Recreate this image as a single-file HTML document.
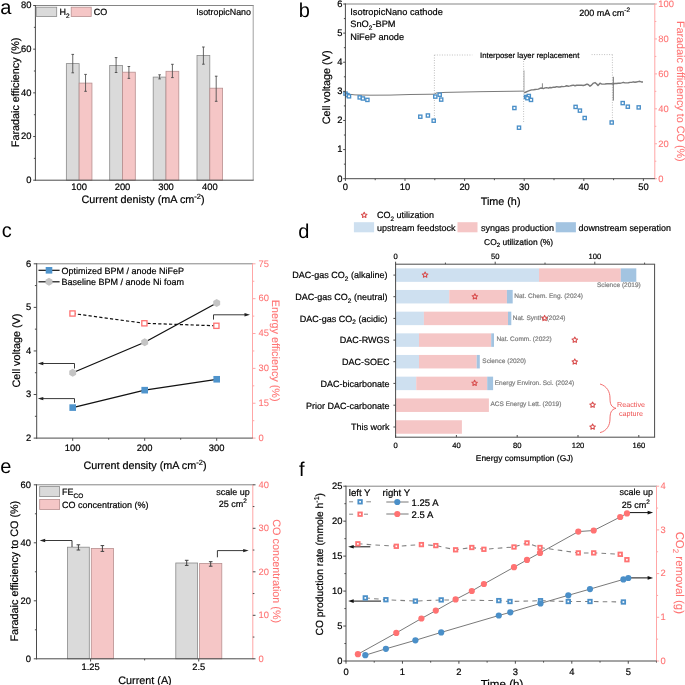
<!DOCTYPE html><html><head><meta charset="utf-8"><style>
html,body{margin:0;padding:0;background:#fff;width:685px;height:685px;overflow:hidden}
svg{display:block;font-family:"Liberation Sans",sans-serif;will-change:transform;text-rendering:geometricPrecision}
</style></head><body><svg width="685" height="685" viewBox="0 0 685 685">
<rect width="685" height="685" fill="#fff"/>
<text x="0.30" y="13.90" font-size="20" text-anchor="start" fill="#000" stroke="#000" stroke-width="0">a</text>
<rect x="66.35" y="63.60" width="12.80" height="116.60" fill="#dadada" stroke="#8a8a8a" stroke-width="0.8"/>
<rect x="79.15" y="83.10" width="12.80" height="97.10" fill="#f5c6c6" stroke="#b89090" stroke-width="0.8"/>
<rect x="109.70" y="65.50" width="12.80" height="114.70" fill="#dadada" stroke="#8a8a8a" stroke-width="0.8"/>
<rect x="122.50" y="72.20" width="12.80" height="108.00" fill="#f5c6c6" stroke="#b89090" stroke-width="0.8"/>
<rect x="153.20" y="77.10" width="12.80" height="103.10" fill="#dadada" stroke="#8a8a8a" stroke-width="0.8"/>
<rect x="166.00" y="71.30" width="12.80" height="108.90" fill="#f5c6c6" stroke="#b89090" stroke-width="0.8"/>
<rect x="197.00" y="55.40" width="12.80" height="124.80" fill="#dadada" stroke="#8a8a8a" stroke-width="0.8"/>
<rect x="209.80" y="88.20" width="12.80" height="92.00" fill="#f5c6c6" stroke="#b89090" stroke-width="0.8"/>
<line x1="72.75" y1="54.40" x2="72.75" y2="72.80" stroke="#4a4a4a" stroke-width="0.85" stroke-linecap="butt"/>
<line x1="71.45" y1="54.40" x2="74.05" y2="54.40" stroke="#4a4a4a" stroke-width="0.9" stroke-linecap="butt"/>
<line x1="71.45" y1="72.80" x2="74.05" y2="72.80" stroke="#4a4a4a" stroke-width="0.9" stroke-linecap="butt"/>
<line x1="85.55" y1="74.40" x2="85.55" y2="91.30" stroke="#4a4a4a" stroke-width="0.85" stroke-linecap="butt"/>
<line x1="84.25" y1="74.40" x2="86.85" y2="74.40" stroke="#4a4a4a" stroke-width="0.9" stroke-linecap="butt"/>
<line x1="84.25" y1="91.30" x2="86.85" y2="91.30" stroke="#4a4a4a" stroke-width="0.9" stroke-linecap="butt"/>
<line x1="116.10" y1="57.60" x2="116.10" y2="72.50" stroke="#4a4a4a" stroke-width="0.85" stroke-linecap="butt"/>
<line x1="114.80" y1="57.60" x2="117.40" y2="57.60" stroke="#4a4a4a" stroke-width="0.9" stroke-linecap="butt"/>
<line x1="114.80" y1="72.50" x2="117.40" y2="72.50" stroke="#4a4a4a" stroke-width="0.9" stroke-linecap="butt"/>
<line x1="128.90" y1="66.50" x2="128.90" y2="78.40" stroke="#4a4a4a" stroke-width="0.85" stroke-linecap="butt"/>
<line x1="127.60" y1="66.50" x2="130.20" y2="66.50" stroke="#4a4a4a" stroke-width="0.9" stroke-linecap="butt"/>
<line x1="127.60" y1="78.40" x2="130.20" y2="78.40" stroke="#4a4a4a" stroke-width="0.9" stroke-linecap="butt"/>
<line x1="159.60" y1="74.80" x2="159.60" y2="78.90" stroke="#4a4a4a" stroke-width="0.85" stroke-linecap="butt"/>
<line x1="158.30" y1="74.80" x2="160.90" y2="74.80" stroke="#4a4a4a" stroke-width="0.9" stroke-linecap="butt"/>
<line x1="158.30" y1="78.90" x2="160.90" y2="78.90" stroke="#4a4a4a" stroke-width="0.9" stroke-linecap="butt"/>
<line x1="172.40" y1="64.30" x2="172.40" y2="77.60" stroke="#4a4a4a" stroke-width="0.85" stroke-linecap="butt"/>
<line x1="171.10" y1="64.30" x2="173.70" y2="64.30" stroke="#4a4a4a" stroke-width="0.9" stroke-linecap="butt"/>
<line x1="171.10" y1="77.60" x2="173.70" y2="77.60" stroke="#4a4a4a" stroke-width="0.9" stroke-linecap="butt"/>
<line x1="203.40" y1="47.00" x2="203.40" y2="64.20" stroke="#4a4a4a" stroke-width="0.85" stroke-linecap="butt"/>
<line x1="202.10" y1="47.00" x2="204.70" y2="47.00" stroke="#4a4a4a" stroke-width="0.9" stroke-linecap="butt"/>
<line x1="202.10" y1="64.20" x2="204.70" y2="64.20" stroke="#4a4a4a" stroke-width="0.9" stroke-linecap="butt"/>
<line x1="216.20" y1="76.20" x2="216.20" y2="101.30" stroke="#4a4a4a" stroke-width="0.85" stroke-linecap="butt"/>
<line x1="214.90" y1="76.20" x2="217.50" y2="76.20" stroke="#4a4a4a" stroke-width="0.9" stroke-linecap="butt"/>
<line x1="214.90" y1="101.30" x2="217.50" y2="101.30" stroke="#4a4a4a" stroke-width="0.9" stroke-linecap="butt"/>
<line x1="34.90" y1="5.50" x2="253.70" y2="5.50" stroke="#858585" stroke-width="1.0" stroke-linecap="butt"/>
<line x1="253.20" y1="5.50" x2="253.20" y2="180.20" stroke="#a0a0a0" stroke-width="1.0" stroke-linecap="butt"/>
<line x1="34.90" y1="180.20" x2="253.70" y2="180.20" stroke="#4a4a4a" stroke-width="1.0" stroke-linecap="butt"/>
<line x1="35.40" y1="5.00" x2="35.40" y2="180.70" stroke="#4a4a4a" stroke-width="1.0" stroke-linecap="butt"/>
<line x1="33.20" y1="180.20" x2="35.40" y2="180.20" stroke="#4a4a4a" stroke-width="1.0" stroke-linecap="butt"/>
<text x="31.50" y="183.00" font-size="9.4" text-anchor="end" fill="#000" stroke="#000" stroke-width="0.2">0</text>
<line x1="33.90" y1="158.36" x2="35.40" y2="158.36" stroke="#4a4a4a" stroke-width="1.0" stroke-linecap="butt"/>
<line x1="33.20" y1="136.52" x2="35.40" y2="136.52" stroke="#4a4a4a" stroke-width="1.0" stroke-linecap="butt"/>
<text x="31.50" y="139.32" font-size="9.4" text-anchor="end" fill="#000" stroke="#000" stroke-width="0.2">20</text>
<line x1="33.90" y1="114.69" x2="35.40" y2="114.69" stroke="#4a4a4a" stroke-width="1.0" stroke-linecap="butt"/>
<line x1="33.20" y1="92.85" x2="35.40" y2="92.85" stroke="#4a4a4a" stroke-width="1.0" stroke-linecap="butt"/>
<text x="31.50" y="95.65" font-size="9.4" text-anchor="end" fill="#000" stroke="#000" stroke-width="0.2">40</text>
<line x1="33.90" y1="71.01" x2="35.40" y2="71.01" stroke="#4a4a4a" stroke-width="1.0" stroke-linecap="butt"/>
<line x1="33.20" y1="49.17" x2="35.40" y2="49.17" stroke="#4a4a4a" stroke-width="1.0" stroke-linecap="butt"/>
<text x="31.50" y="51.97" font-size="9.4" text-anchor="end" fill="#000" stroke="#000" stroke-width="0.2">60</text>
<line x1="33.90" y1="27.34" x2="35.40" y2="27.34" stroke="#4a4a4a" stroke-width="1.0" stroke-linecap="butt"/>
<line x1="33.20" y1="5.50" x2="35.40" y2="5.50" stroke="#4a4a4a" stroke-width="1.0" stroke-linecap="butt"/>
<text x="31.50" y="8.30" font-size="9.4" text-anchor="end" fill="#000" stroke="#000" stroke-width="0.2">80</text>
<text x="79.15" y="189.80" font-size="9.4" text-anchor="middle" fill="#000" stroke="#000" stroke-width="0.2">100</text>
<text x="122.50" y="189.80" font-size="9.4" text-anchor="middle" fill="#000" stroke="#000" stroke-width="0.2">200</text>
<text x="166.00" y="189.80" font-size="9.4" text-anchor="middle" fill="#000" stroke="#000" stroke-width="0.2">300</text>
<text x="209.80" y="189.80" font-size="9.4" text-anchor="middle" fill="#000" stroke="#000" stroke-width="0.2">400</text>
<text x="81.50" y="202.70" font-size="10.8" text-anchor="start" fill="#000" stroke="#000" stroke-width="0.2">Current denisty (mA cm<tspan dy="-4" font-size="7.5">-2</tspan><tspan dy="4">)</tspan></text>
<text x="19.50" y="92.40" font-size="10.8" text-anchor="middle" fill="#000" stroke="#000" stroke-width="0.2" transform="rotate(-90 19.50 92.40)">Faradaic efficiency (%)</text>
<rect x="36.20" y="7.20" width="20.50" height="9.30" fill="#dadada" stroke="#8a8a8a" stroke-width="0.8"/>
<text x="59.50" y="15.20" font-size="9" text-anchor="start" fill="#000" stroke="#000" stroke-width="0.2">H<tspan dy="2.5" font-size="6.5">2</tspan></text>
<rect x="71.20" y="7.20" width="20.00" height="9.30" fill="#f5c6c6" stroke="#b89090" stroke-width="0.8"/>
<text x="93.70" y="15.20" font-size="9" text-anchor="start" fill="#000" stroke="#000" stroke-width="0.2">CO</text>
<text x="251.00" y="15.00" font-size="8.9" text-anchor="end" fill="#000" stroke="#000" stroke-width="0.2">IsotropicNano</text>
<text x="298.80" y="17.40" font-size="20" text-anchor="start" fill="#000" stroke="#000" stroke-width="0">b</text>
<line x1="434.40" y1="55.00" x2="472.30" y2="55.00" stroke="#b0b0b0" stroke-width="0.8" stroke-dasharray="1,1.5" stroke-linecap="butt"/>
<line x1="434.40" y1="55.00" x2="434.40" y2="123.00" stroke="#b0b0b0" stroke-width="0.8" stroke-dasharray="1,1.5" stroke-linecap="butt"/>
<line x1="523.60" y1="61.00" x2="523.60" y2="122.30" stroke="#b0b0b0" stroke-width="0.8" stroke-dasharray="1,1.5" stroke-linecap="butt"/>
<line x1="591.60" y1="54.60" x2="612.40" y2="54.60" stroke="#b0b0b0" stroke-width="0.8" stroke-dasharray="1,1.5" stroke-linecap="butt"/>
<line x1="612.40" y1="54.60" x2="612.40" y2="121.00" stroke="#b0b0b0" stroke-width="0.8" stroke-dasharray="1,1.5" stroke-linecap="butt"/>
<text x="480.10" y="57.80" font-size="7.8" text-anchor="start" fill="#000" stroke="#000" stroke-width="0.2">Interposer layer replacement</text>
<polyline points="345.40,92.40 350.00,94.30 355.00,94.90 370.00,95.20 390.00,95.10 410.00,94.50 434.30,94.20 436.00,93.00 445.00,92.40 480.00,91.70 523.90,91.10" stroke="#7a7a7a" stroke-width="1.0" fill="none" stroke-linejoin="round"/>
<polyline points="524.10,92.80 526.07,92.00 528.03,91.20 530.00,90.40 531.67,89.88 533.33,89.87 535.00,89.43 536.67,89.36 538.33,89.10 540.00,88.31 541.67,88.06 543.33,88.60 545.00,87.88 546.67,87.66 548.33,88.15 550.00,87.47 551.67,87.67 553.33,87.21 555.00,87.23 556.67,86.65 558.33,86.95 560.00,87.03 561.67,86.57 563.33,86.62 565.00,86.40 566.67,85.71 568.33,86.18 570.00,85.88 571.67,85.49 573.33,85.11 575.00,85.73 576.67,85.24 578.33,85.33 580.00,85.34 581.67,85.23 583.33,85.45 585.00,85.01 587.00,84.07 588.50,84.75 590.00,86.19 591.50,85.14 593.00,83.44 595.00,82.57 596.50,83.75 598.00,85.52 600.00,83.24 601.50,83.91 603.00,84.12 605.00,84.06 607.00,83.70 608.50,83.62 610.00,83.78 611.50,83.73 613.00,83.96 614.75,83.56 616.50,83.59 618.25,83.32 620.00,83.24 621.67,82.87 623.33,82.33 625.00,82.87 626.67,82.88 628.33,82.75 630.00,82.36 631.62,82.39 633.25,81.84 634.88,82.30 636.50,81.97 638.12,81.61 639.75,81.31 641.38,81.92 643.00,81.94" stroke="#7a7a7a" stroke-width="1.45" fill="none" stroke-linejoin="round"/>
<line x1="524.00" y1="70.40" x2="524.00" y2="92.50" stroke="#a8a8a8" stroke-width="1.0" stroke-linecap="butt"/>
<line x1="542.40" y1="83.30" x2="542.40" y2="89.00" stroke="#7a7a7a" stroke-width="0.9" stroke-linecap="butt"/>
<line x1="613.30" y1="76.80" x2="613.30" y2="100.60" stroke="#707070" stroke-width="1.0" stroke-linecap="butt"/>
<rect x="343.90" y="92.00" width="3.20" height="3.20" fill="#fff" stroke="#4a8fc8" stroke-width="1.35"/>
<rect x="345.70" y="93.50" width="3.20" height="3.20" fill="#fff" stroke="#4a8fc8" stroke-width="1.35"/>
<rect x="347.40" y="94.70" width="3.20" height="3.20" fill="#fff" stroke="#4a8fc8" stroke-width="1.35"/>
<rect x="358.10" y="95.80" width="3.20" height="3.20" fill="#fff" stroke="#4a8fc8" stroke-width="1.35"/>
<rect x="361.30" y="96.90" width="3.20" height="3.20" fill="#fff" stroke="#4a8fc8" stroke-width="1.35"/>
<rect x="365.80" y="98.30" width="3.20" height="3.20" fill="#fff" stroke="#4a8fc8" stroke-width="1.35"/>
<rect x="418.70" y="115.10" width="3.20" height="3.20" fill="#fff" stroke="#4a8fc8" stroke-width="1.35"/>
<rect x="426.30" y="113.90" width="3.20" height="3.20" fill="#fff" stroke="#4a8fc8" stroke-width="1.35"/>
<rect x="432.10" y="119.10" width="3.20" height="3.20" fill="#fff" stroke="#4a8fc8" stroke-width="1.35"/>
<rect x="433.70" y="95.00" width="3.20" height="3.20" fill="#fff" stroke="#4a8fc8" stroke-width="1.35"/>
<rect x="438.10" y="93.10" width="3.20" height="3.20" fill="#fff" stroke="#4a8fc8" stroke-width="1.35"/>
<rect x="439.60" y="98.00" width="3.20" height="3.20" fill="#fff" stroke="#4a8fc8" stroke-width="1.35"/>
<rect x="512.80" y="106.40" width="3.20" height="3.20" fill="#fff" stroke="#4a8fc8" stroke-width="1.35"/>
<rect x="517.40" y="126.10" width="3.20" height="3.20" fill="#fff" stroke="#4a8fc8" stroke-width="1.35"/>
<rect x="524.40" y="95.40" width="3.20" height="3.20" fill="#fff" stroke="#4a8fc8" stroke-width="1.35"/>
<rect x="527.20" y="94.40" width="3.20" height="3.20" fill="#fff" stroke="#4a8fc8" stroke-width="1.35"/>
<rect x="525.80" y="96.60" width="3.20" height="3.20" fill="#fff" stroke="#4a8fc8" stroke-width="1.35"/>
<rect x="529.40" y="98.30" width="3.20" height="3.20" fill="#fff" stroke="#4a8fc8" stroke-width="1.35"/>
<rect x="574.00" y="105.30" width="3.20" height="3.20" fill="#fff" stroke="#4a8fc8" stroke-width="1.35"/>
<rect x="578.30" y="109.00" width="3.20" height="3.20" fill="#fff" stroke="#4a8fc8" stroke-width="1.35"/>
<rect x="583.10" y="116.40" width="3.20" height="3.20" fill="#fff" stroke="#4a8fc8" stroke-width="1.35"/>
<rect x="610.10" y="120.90" width="3.20" height="3.20" fill="#fff" stroke="#4a8fc8" stroke-width="1.35"/>
<rect x="621.10" y="101.50" width="3.20" height="3.20" fill="#fff" stroke="#4a8fc8" stroke-width="1.35"/>
<rect x="626.20" y="105.10" width="3.20" height="3.20" fill="#fff" stroke="#4a8fc8" stroke-width="1.35"/>
<rect x="637.10" y="105.80" width="3.20" height="3.20" fill="#fff" stroke="#4a8fc8" stroke-width="1.35"/>
<line x1="344.90" y1="4.00" x2="655.30" y2="4.00" stroke="#858585" stroke-width="1.0" stroke-linecap="butt"/>
<line x1="654.80" y1="4.00" x2="654.80" y2="178.70" stroke="#ffa6a6" stroke-width="1.0" stroke-linecap="butt"/>
<line x1="344.90" y1="178.70" x2="655.30" y2="178.70" stroke="#4a4a4a" stroke-width="1.0" stroke-linecap="butt"/>
<line x1="345.40" y1="3.50" x2="345.40" y2="179.20" stroke="#4a4a4a" stroke-width="1.0" stroke-linecap="butt"/>
<line x1="343.20" y1="178.70" x2="345.40" y2="178.70" stroke="#4a4a4a" stroke-width="1.0" stroke-linecap="butt"/>
<text x="342.50" y="181.50" font-size="9.4" text-anchor="end" fill="#000" stroke="#000" stroke-width="0.2">0</text>
<line x1="343.90" y1="164.15" x2="345.40" y2="164.15" stroke="#4a4a4a" stroke-width="1.0" stroke-linecap="butt"/>
<line x1="343.20" y1="149.58" x2="345.40" y2="149.58" stroke="#4a4a4a" stroke-width="1.0" stroke-linecap="butt"/>
<text x="342.50" y="152.38" font-size="9.4" text-anchor="end" fill="#000" stroke="#000" stroke-width="0.2">1</text>
<line x1="343.90" y1="135.03" x2="345.40" y2="135.03" stroke="#4a4a4a" stroke-width="1.0" stroke-linecap="butt"/>
<line x1="343.20" y1="120.47" x2="345.40" y2="120.47" stroke="#4a4a4a" stroke-width="1.0" stroke-linecap="butt"/>
<text x="342.50" y="123.27" font-size="9.4" text-anchor="end" fill="#000" stroke="#000" stroke-width="0.2">2</text>
<line x1="343.90" y1="105.92" x2="345.40" y2="105.92" stroke="#4a4a4a" stroke-width="1.0" stroke-linecap="butt"/>
<line x1="343.20" y1="91.35" x2="345.40" y2="91.35" stroke="#4a4a4a" stroke-width="1.0" stroke-linecap="butt"/>
<text x="342.50" y="94.15" font-size="9.4" text-anchor="end" fill="#000" stroke="#000" stroke-width="0.2">3</text>
<line x1="343.90" y1="76.80" x2="345.40" y2="76.80" stroke="#4a4a4a" stroke-width="1.0" stroke-linecap="butt"/>
<line x1="343.20" y1="62.23" x2="345.40" y2="62.23" stroke="#4a4a4a" stroke-width="1.0" stroke-linecap="butt"/>
<text x="342.50" y="65.03" font-size="9.4" text-anchor="end" fill="#000" stroke="#000" stroke-width="0.2">4</text>
<line x1="343.90" y1="47.68" x2="345.40" y2="47.68" stroke="#4a4a4a" stroke-width="1.0" stroke-linecap="butt"/>
<line x1="343.20" y1="33.12" x2="345.40" y2="33.12" stroke="#4a4a4a" stroke-width="1.0" stroke-linecap="butt"/>
<text x="342.50" y="35.92" font-size="9.4" text-anchor="end" fill="#000" stroke="#000" stroke-width="0.2">5</text>
<line x1="343.90" y1="18.57" x2="345.40" y2="18.57" stroke="#4a4a4a" stroke-width="1.0" stroke-linecap="butt"/>
<line x1="343.20" y1="4.00" x2="345.40" y2="4.00" stroke="#4a4a4a" stroke-width="1.0" stroke-linecap="butt"/>
<text x="342.50" y="6.80" font-size="9.4" text-anchor="end" fill="#000" stroke="#000" stroke-width="0.2">6</text>
<line x1="345.40" y1="178.70" x2="345.40" y2="180.90" stroke="#4a4a4a" stroke-width="1.0" stroke-linecap="butt"/>
<text x="345.40" y="190.10" font-size="9.4" text-anchor="middle" fill="#000" stroke="#000" stroke-width="0.2">0</text>
<line x1="375.20" y1="178.70" x2="375.20" y2="180.20" stroke="#4a4a4a" stroke-width="1.0" stroke-linecap="butt"/>
<line x1="405.00" y1="178.70" x2="405.00" y2="180.90" stroke="#4a4a4a" stroke-width="1.0" stroke-linecap="butt"/>
<text x="405.00" y="190.10" font-size="9.4" text-anchor="middle" fill="#000" stroke="#000" stroke-width="0.2">10</text>
<line x1="434.80" y1="178.70" x2="434.80" y2="180.20" stroke="#4a4a4a" stroke-width="1.0" stroke-linecap="butt"/>
<line x1="464.60" y1="178.70" x2="464.60" y2="180.90" stroke="#4a4a4a" stroke-width="1.0" stroke-linecap="butt"/>
<text x="464.60" y="190.10" font-size="9.4" text-anchor="middle" fill="#000" stroke="#000" stroke-width="0.2">20</text>
<line x1="494.40" y1="178.70" x2="494.40" y2="180.20" stroke="#4a4a4a" stroke-width="1.0" stroke-linecap="butt"/>
<line x1="524.20" y1="178.70" x2="524.20" y2="180.90" stroke="#4a4a4a" stroke-width="1.0" stroke-linecap="butt"/>
<text x="524.20" y="190.10" font-size="9.4" text-anchor="middle" fill="#000" stroke="#000" stroke-width="0.2">30</text>
<line x1="554.00" y1="178.70" x2="554.00" y2="180.20" stroke="#4a4a4a" stroke-width="1.0" stroke-linecap="butt"/>
<line x1="583.80" y1="178.70" x2="583.80" y2="180.90" stroke="#4a4a4a" stroke-width="1.0" stroke-linecap="butt"/>
<text x="583.80" y="190.10" font-size="9.4" text-anchor="middle" fill="#000" stroke="#000" stroke-width="0.2">40</text>
<line x1="613.60" y1="178.70" x2="613.60" y2="180.20" stroke="#4a4a4a" stroke-width="1.0" stroke-linecap="butt"/>
<line x1="643.40" y1="178.70" x2="643.40" y2="180.90" stroke="#4a4a4a" stroke-width="1.0" stroke-linecap="butt"/>
<text x="643.40" y="190.10" font-size="9.4" text-anchor="middle" fill="#000" stroke="#000" stroke-width="0.2">50</text>
<line x1="654.80" y1="178.70" x2="657.00" y2="178.70" stroke="#ffa6a6" stroke-width="1.0" stroke-linecap="butt"/>
<text x="658.30" y="181.50" font-size="9.4" text-anchor="start" fill="#ff7272" stroke="#ff7272" stroke-width="0.08">0</text>
<line x1="654.80" y1="161.23" x2="656.30" y2="161.23" stroke="#ffa6a6" stroke-width="1.0" stroke-linecap="butt"/>
<line x1="654.80" y1="143.76" x2="657.00" y2="143.76" stroke="#ffa6a6" stroke-width="1.0" stroke-linecap="butt"/>
<text x="658.30" y="146.56" font-size="9.4" text-anchor="start" fill="#ff7272" stroke="#ff7272" stroke-width="0.08">20</text>
<line x1="654.80" y1="126.29" x2="656.30" y2="126.29" stroke="#ffa6a6" stroke-width="1.0" stroke-linecap="butt"/>
<line x1="654.80" y1="108.82" x2="657.00" y2="108.82" stroke="#ffa6a6" stroke-width="1.0" stroke-linecap="butt"/>
<text x="658.30" y="111.62" font-size="9.4" text-anchor="start" fill="#ff7272" stroke="#ff7272" stroke-width="0.08">40</text>
<line x1="654.80" y1="91.35" x2="656.30" y2="91.35" stroke="#ffa6a6" stroke-width="1.0" stroke-linecap="butt"/>
<line x1="654.80" y1="73.88" x2="657.00" y2="73.88" stroke="#ffa6a6" stroke-width="1.0" stroke-linecap="butt"/>
<text x="658.30" y="76.68" font-size="9.4" text-anchor="start" fill="#ff7272" stroke="#ff7272" stroke-width="0.08">60</text>
<line x1="654.80" y1="56.41" x2="656.30" y2="56.41" stroke="#ffa6a6" stroke-width="1.0" stroke-linecap="butt"/>
<line x1="654.80" y1="38.94" x2="657.00" y2="38.94" stroke="#ffa6a6" stroke-width="1.0" stroke-linecap="butt"/>
<text x="658.30" y="41.74" font-size="9.4" text-anchor="start" fill="#ff7272" stroke="#ff7272" stroke-width="0.08">80</text>
<line x1="654.80" y1="21.47" x2="656.30" y2="21.47" stroke="#ffa6a6" stroke-width="1.0" stroke-linecap="butt"/>
<line x1="654.80" y1="4.00" x2="657.00" y2="4.00" stroke="#ffa6a6" stroke-width="1.0" stroke-linecap="butt"/>
<text x="658.30" y="6.80" font-size="9.4" text-anchor="start" fill="#ff7272" stroke="#ff7272" stroke-width="0.08">100</text>
<text x="500.60" y="205.20" font-size="10.8" text-anchor="middle" fill="#000" stroke="#000" stroke-width="0.2">Time (h)</text>
<text x="330.00" y="87.40" font-size="10.8" text-anchor="middle" fill="#000" stroke="#000" stroke-width="0.2" transform="rotate(-90 330.00 87.40)">Cell voltage (V)</text>
<text x="677.00" y="91.30" font-size="10.8" text-anchor="middle" fill="#ff7272" stroke="#ff7272" stroke-width="0.08" transform="rotate(90 677.00 91.30)">Faradaic efficiency to CO (%)</text>
<text x="350.30" y="14.90" font-size="9.25" text-anchor="start" fill="#000" stroke="#000" stroke-width="0.2">IsotropicNano cathode</text>
<text x="350.30" y="27.30" font-size="9.25" text-anchor="start" fill="#000" stroke="#000" stroke-width="0.2">SnO<tspan dy="2.5" font-size="6.5">2</tspan><tspan dy="-2.5">-BPM</tspan></text>
<text x="350.30" y="39.70" font-size="9.25" text-anchor="start" fill="#000" stroke="#000" stroke-width="0.2">NiFeP anode</text>
<text x="579.20" y="16.00" font-size="9" text-anchor="start" fill="#000" stroke="#000" stroke-width="0.2">200 mA cm<tspan dy="-4" font-size="6.5">-2</tspan></text>
<text x="1.80" y="237.30" font-size="20" text-anchor="start" fill="#000" stroke="#000" stroke-width="0">c</text>
<line x1="36.20" y1="263.80" x2="253.00" y2="263.80" stroke="#858585" stroke-width="1.0" stroke-linecap="butt"/>
<line x1="252.50" y1="263.80" x2="252.50" y2="438.10" stroke="#ffa6a6" stroke-width="1.0" stroke-linecap="butt"/>
<line x1="36.20" y1="438.10" x2="253.00" y2="438.10" stroke="#4a4a4a" stroke-width="1.0" stroke-linecap="butt"/>
<line x1="36.70" y1="263.30" x2="36.70" y2="438.60" stroke="#4a4a4a" stroke-width="1.0" stroke-linecap="butt"/>
<line x1="33.70" y1="438.10" x2="36.70" y2="438.10" stroke="#4a4a4a" stroke-width="1.0" stroke-linecap="butt"/>
<text x="31.20" y="440.90" font-size="9.4" text-anchor="end" fill="#000" stroke="#000" stroke-width="0.2">2</text>
<line x1="34.90" y1="416.30" x2="36.70" y2="416.30" stroke="#4a4a4a" stroke-width="1.0" stroke-linecap="butt"/>
<line x1="33.70" y1="394.53" x2="36.70" y2="394.53" stroke="#4a4a4a" stroke-width="1.0" stroke-linecap="butt"/>
<text x="31.20" y="397.33" font-size="9.4" text-anchor="end" fill="#000" stroke="#000" stroke-width="0.2">3</text>
<line x1="34.90" y1="372.73" x2="36.70" y2="372.73" stroke="#4a4a4a" stroke-width="1.0" stroke-linecap="butt"/>
<line x1="33.70" y1="350.95" x2="36.70" y2="350.95" stroke="#4a4a4a" stroke-width="1.0" stroke-linecap="butt"/>
<text x="31.20" y="353.75" font-size="9.4" text-anchor="end" fill="#000" stroke="#000" stroke-width="0.2">4</text>
<line x1="34.90" y1="329.15" x2="36.70" y2="329.15" stroke="#4a4a4a" stroke-width="1.0" stroke-linecap="butt"/>
<line x1="33.70" y1="307.38" x2="36.70" y2="307.38" stroke="#4a4a4a" stroke-width="1.0" stroke-linecap="butt"/>
<text x="31.20" y="310.18" font-size="9.4" text-anchor="end" fill="#000" stroke="#000" stroke-width="0.2">5</text>
<line x1="34.90" y1="285.57" x2="36.70" y2="285.57" stroke="#4a4a4a" stroke-width="1.0" stroke-linecap="butt"/>
<line x1="33.70" y1="263.80" x2="36.70" y2="263.80" stroke="#4a4a4a" stroke-width="1.0" stroke-linecap="butt"/>
<text x="31.20" y="266.60" font-size="9.4" text-anchor="end" fill="#000" stroke="#000" stroke-width="0.2">6</text>
<line x1="72.70" y1="438.10" x2="72.70" y2="440.80" stroke="#4a4a4a" stroke-width="1.0" stroke-linecap="butt"/>
<text x="72.70" y="451.00" font-size="9.4" text-anchor="middle" fill="#000" stroke="#000" stroke-width="0.2">100</text>
<line x1="144.70" y1="438.10" x2="144.70" y2="440.80" stroke="#4a4a4a" stroke-width="1.0" stroke-linecap="butt"/>
<text x="144.70" y="451.00" font-size="9.4" text-anchor="middle" fill="#000" stroke="#000" stroke-width="0.2">200</text>
<line x1="216.70" y1="438.10" x2="216.70" y2="440.80" stroke="#4a4a4a" stroke-width="1.0" stroke-linecap="butt"/>
<text x="216.70" y="451.00" font-size="9.4" text-anchor="middle" fill="#000" stroke="#000" stroke-width="0.2">300</text>
<line x1="108.70" y1="438.10" x2="108.70" y2="439.70" stroke="#4a4a4a" stroke-width="1.0" stroke-linecap="butt"/>
<line x1="180.70" y1="438.10" x2="180.70" y2="439.70" stroke="#4a4a4a" stroke-width="1.0" stroke-linecap="butt"/>
<line x1="252.50" y1="438.10" x2="255.50" y2="438.10" stroke="#ffa6a6" stroke-width="1.0" stroke-linecap="butt"/>
<text x="258.50" y="440.90" font-size="9.4" text-anchor="start" fill="#ff7272" stroke="#ff7272" stroke-width="0.08">0</text>
<line x1="252.50" y1="420.70" x2="254.30" y2="420.70" stroke="#ffa6a6" stroke-width="1.0" stroke-linecap="butt"/>
<line x1="252.50" y1="403.24" x2="255.50" y2="403.24" stroke="#ffa6a6" stroke-width="1.0" stroke-linecap="butt"/>
<text x="258.50" y="406.04" font-size="9.4" text-anchor="start" fill="#ff7272" stroke="#ff7272" stroke-width="0.08">15</text>
<line x1="252.50" y1="385.84" x2="254.30" y2="385.84" stroke="#ffa6a6" stroke-width="1.0" stroke-linecap="butt"/>
<line x1="252.50" y1="368.38" x2="255.50" y2="368.38" stroke="#ffa6a6" stroke-width="1.0" stroke-linecap="butt"/>
<text x="258.50" y="371.18" font-size="9.4" text-anchor="start" fill="#ff7272" stroke="#ff7272" stroke-width="0.08">30</text>
<line x1="252.50" y1="350.98" x2="254.30" y2="350.98" stroke="#ffa6a6" stroke-width="1.0" stroke-linecap="butt"/>
<line x1="252.50" y1="333.52" x2="255.50" y2="333.52" stroke="#ffa6a6" stroke-width="1.0" stroke-linecap="butt"/>
<text x="258.50" y="336.32" font-size="9.4" text-anchor="start" fill="#ff7272" stroke="#ff7272" stroke-width="0.08">45</text>
<line x1="252.50" y1="316.12" x2="254.30" y2="316.12" stroke="#ffa6a6" stroke-width="1.0" stroke-linecap="butt"/>
<line x1="252.50" y1="298.66" x2="255.50" y2="298.66" stroke="#ffa6a6" stroke-width="1.0" stroke-linecap="butt"/>
<text x="258.50" y="301.46" font-size="9.4" text-anchor="start" fill="#ff7272" stroke="#ff7272" stroke-width="0.08">60</text>
<line x1="252.50" y1="281.26" x2="254.30" y2="281.26" stroke="#ffa6a6" stroke-width="1.0" stroke-linecap="butt"/>
<line x1="252.50" y1="263.80" x2="255.50" y2="263.80" stroke="#ffa6a6" stroke-width="1.0" stroke-linecap="butt"/>
<text x="258.50" y="266.60" font-size="9.4" text-anchor="start" fill="#ff7272" stroke="#ff7272" stroke-width="0.08">75</text>
<text x="145.00" y="468.50" font-size="10.8" text-anchor="middle" fill="#000" stroke="#000" stroke-width="0.2">Current density (mA cm<tspan dy="-4" font-size="7.5">-2</tspan><tspan dy="4">)</tspan></text>
<text x="20.20" y="350.60" font-size="10.8" text-anchor="middle" fill="#000" stroke="#000" stroke-width="0.2" transform="rotate(-90 20.20 350.60)">Cell voltage (V)</text>
<text x="272.00" y="350.60" font-size="10.8" text-anchor="middle" fill="#ff7272" stroke="#ff7272" stroke-width="0.08" transform="rotate(90 272.00 350.60)">Energy efficiency (%)</text>
<polyline points="72.70,407.60 144.70,390.17 216.70,379.27" stroke="#111" stroke-width="1.3" fill="none" stroke-linejoin="round"/>
<polyline points="72.70,372.74 144.70,342.24 216.70,303.02" stroke="#111" stroke-width="1.3" fill="none" stroke-linejoin="round"/>
<polyline points="72.50,313.50 144.40,323.30 216.40,325.80" stroke="#111" stroke-width="1.2" fill="none" stroke-dasharray="3.2,2.2" stroke-linejoin="round"/>
<rect x="69.90" y="310.90" width="5.20" height="5.20" fill="#fff" stroke="#ff7272" stroke-width="1.3"/>
<rect x="141.80" y="320.70" width="5.20" height="5.20" fill="#fff" stroke="#ff7272" stroke-width="1.3"/>
<rect x="213.80" y="323.20" width="5.20" height="5.20" fill="#fff" stroke="#ff7272" stroke-width="1.3"/>
<polygon points="76.16,374.74 72.70,376.74 69.24,374.74 69.24,370.74 72.70,368.74 76.16,370.74" fill="#c4c4c4"/>
<polygon points="148.16,344.24 144.70,346.24 141.24,344.24 141.24,340.24 144.70,338.24 148.16,340.24" fill="#c4c4c4"/>
<polygon points="220.16,305.02 216.70,307.02 213.24,305.02 213.24,301.02 216.70,299.02 220.16,301.02" fill="#c4c4c4"/>
<rect x="69.40" y="404.30" width="6.60" height="6.60" fill="#4f94cc" stroke="none" stroke-width="1.0"/>
<rect x="141.40" y="386.87" width="6.60" height="6.60" fill="#4f94cc" stroke="none" stroke-width="1.0"/>
<rect x="213.40" y="375.97" width="6.60" height="6.60" fill="#4f94cc" stroke="none" stroke-width="1.0"/>
<polyline points="74.50,368.50 74.50,363.50 40.00,363.50" stroke="#222" stroke-width="0.9" fill="none" stroke-linejoin="round"/>
<polygon points="37.80,363.50 43.30,361.80 43.30,365.20" fill="#222"/>
<polyline points="74.50,402.80 74.50,398.60 40.00,398.60" stroke="#222" stroke-width="0.9" fill="none" stroke-linejoin="round"/>
<polygon points="37.80,398.60 43.30,396.90 43.30,400.30" fill="#222"/>
<polyline points="213.50,319.60 213.50,314.80 247.00,314.80" stroke="#222" stroke-width="0.9" fill="none" stroke-linejoin="round"/>
<polygon points="250.00,314.80 244.50,313.10 244.50,316.50" fill="#222"/>
<line x1="38.50" y1="270.30" x2="59.60" y2="270.30" stroke="#111" stroke-width="1.2" stroke-linecap="butt"/>
<rect x="45.70" y="267.00" width="6.60" height="6.60" fill="#4f94cc" stroke="none" stroke-width="1.0"/>
<text x="61.50" y="273.60" font-size="9" text-anchor="start" fill="#000" stroke="#000" stroke-width="0.2">Optimized BPM / anode NiFeP</text>
<line x1="38.50" y1="281.80" x2="59.60" y2="281.80" stroke="#111" stroke-width="1.2" stroke-linecap="butt"/>
<polygon points="52.46,283.80 49.00,285.80 45.54,283.80 45.54,279.80 49.00,277.80 52.46,279.80" fill="#c4c4c4"/>
<text x="61.50" y="285.10" font-size="9" text-anchor="start" fill="#000" stroke="#000" stroke-width="0.2">Baseline BPM / anode Ni foam</text>
<text x="298.30" y="237.50" font-size="20" text-anchor="start" fill="#000" stroke="#000" stroke-width="0">d</text>
<polygon points="364.20,212.30 365.05,214.03 366.96,214.30 365.58,215.65 365.90,217.55 364.20,216.65 362.50,217.55 362.82,215.65 361.44,214.30 363.35,214.03" fill="none" stroke="#d84a4a" stroke-width="1.05" stroke-linejoin="round"/>
<text x="377.00" y="218.10" font-size="9.0" text-anchor="start" fill="#000" stroke="#000" stroke-width="0.2">CO<tspan dy="2.5" font-size="6.3">2</tspan><tspan dy="-2.5"> utilization</tspan></text>
<rect x="353.90" y="222.20" width="20.20" height="10.10" fill="#cee0f0" stroke="none" stroke-width="1.0"/>
<text x="377.00" y="230.60" font-size="9.0" text-anchor="start" fill="#000" stroke="#000" stroke-width="0.2">upstream feedstock</text>
<rect x="457.50" y="222.20" width="20.00" height="10.10" fill="#f5c6c6" stroke="none" stroke-width="1.0"/>
<text x="480.90" y="230.60" font-size="9.0" text-anchor="start" fill="#000" stroke="#000" stroke-width="0.2">syngas production</text>
<rect x="555.70" y="222.20" width="20.20" height="10.10" fill="#a3c4e1" stroke="none" stroke-width="1.0"/>
<text x="578.60" y="230.60" font-size="8.9" text-anchor="start" fill="#000" stroke="#000" stroke-width="0.2">downstream seperation</text>
<text x="518.60" y="244.50" font-size="8.45" text-anchor="middle" fill="#000" stroke="#000" stroke-width="0.2">CO<tspan dy="2.2" font-size="6">2</tspan><tspan dy="-2.2"> utilization (%)</tspan></text>
<rect x="395.60" y="268.35" width="143.40" height="13.50" fill="#cee0f0" stroke="none" stroke-width="1.0"/>
<rect x="539.00" y="268.35" width="81.80" height="13.50" fill="#f5c6c6" stroke="none" stroke-width="1.0"/>
<rect x="620.80" y="268.35" width="15.50" height="13.50" fill="#a3c4e1" stroke="none" stroke-width="1.0"/>
<rect x="395.60" y="289.95" width="53.60" height="13.50" fill="#cee0f0" stroke="none" stroke-width="1.0"/>
<rect x="449.20" y="289.95" width="57.70" height="13.50" fill="#f5c6c6" stroke="none" stroke-width="1.0"/>
<rect x="506.90" y="289.95" width="5.80" height="13.50" fill="#a3c4e1" stroke="none" stroke-width="1.0"/>
<rect x="395.60" y="311.65" width="28.30" height="13.50" fill="#cee0f0" stroke="none" stroke-width="1.0"/>
<rect x="423.90" y="311.65" width="84.10" height="13.50" fill="#f5c6c6" stroke="none" stroke-width="1.0"/>
<rect x="508.00" y="311.65" width="3.30" height="13.50" fill="#a3c4e1" stroke="none" stroke-width="1.0"/>
<rect x="395.60" y="333.35" width="23.40" height="13.50" fill="#cee0f0" stroke="none" stroke-width="1.0"/>
<rect x="419.00" y="333.35" width="72.20" height="13.50" fill="#f5c6c6" stroke="none" stroke-width="1.0"/>
<rect x="491.20" y="333.35" width="2.80" height="13.50" fill="#a3c4e1" stroke="none" stroke-width="1.0"/>
<rect x="395.60" y="354.95" width="23.40" height="13.50" fill="#cee0f0" stroke="none" stroke-width="1.0"/>
<rect x="419.00" y="354.95" width="57.70" height="13.50" fill="#f5c6c6" stroke="none" stroke-width="1.0"/>
<rect x="476.70" y="354.95" width="3.10" height="13.50" fill="#a3c4e1" stroke="none" stroke-width="1.0"/>
<rect x="395.60" y="376.65" width="20.60" height="13.50" fill="#cee0f0" stroke="none" stroke-width="1.0"/>
<rect x="416.20" y="376.65" width="71.00" height="13.50" fill="#f5c6c6" stroke="none" stroke-width="1.0"/>
<rect x="487.20" y="376.65" width="5.90" height="13.50" fill="#a3c4e1" stroke="none" stroke-width="1.0"/>
<rect x="395.60" y="398.45" width="93.30" height="13.50" fill="#f5c6c6" stroke="none" stroke-width="1.0"/>
<rect x="395.60" y="420.25" width="66.30" height="13.50" fill="#f5c6c6" stroke="none" stroke-width="1.0"/>
<text x="387.50" y="278.40" font-size="9" text-anchor="end" fill="#000" stroke="#000" stroke-width="0.2">DAC-gas CO<tspan dy="2.5" font-size="6.5">2</tspan><tspan dy="-2.5"> (alkaline)</tspan></text>
<line x1="393.40" y1="275.10" x2="395.60" y2="275.10" stroke="#4a4a4a" stroke-width="1.0" stroke-linecap="butt"/>
<text x="387.50" y="300.00" font-size="9" text-anchor="end" fill="#000" stroke="#000" stroke-width="0.2">DAC-gas CO<tspan dy="2.5" font-size="6.5">2</tspan><tspan dy="-2.5"> (neutral)</tspan></text>
<line x1="393.40" y1="296.70" x2="395.60" y2="296.70" stroke="#4a4a4a" stroke-width="1.0" stroke-linecap="butt"/>
<text x="387.50" y="321.70" font-size="9" text-anchor="end" fill="#000" stroke="#000" stroke-width="0.2">DAC-gas CO<tspan dy="2.5" font-size="6.5">2</tspan><tspan dy="-2.5"> (acidic)</tspan></text>
<line x1="393.40" y1="318.40" x2="395.60" y2="318.40" stroke="#4a4a4a" stroke-width="1.0" stroke-linecap="butt"/>
<text x="389.50" y="343.40" font-size="9" text-anchor="end" fill="#000" stroke="#000" stroke-width="0.2">DAC-RWGS</text>
<line x1="393.40" y1="340.10" x2="395.60" y2="340.10" stroke="#4a4a4a" stroke-width="1.0" stroke-linecap="butt"/>
<text x="389.50" y="365.00" font-size="9" text-anchor="end" fill="#000" stroke="#000" stroke-width="0.2">DAC-SOEC </text>
<line x1="393.40" y1="361.70" x2="395.60" y2="361.70" stroke="#4a4a4a" stroke-width="1.0" stroke-linecap="butt"/>
<text x="389.50" y="386.70" font-size="9" text-anchor="end" fill="#000" stroke="#000" stroke-width="0.2">DAC-bicarbonate</text>
<line x1="393.40" y1="383.40" x2="395.60" y2="383.40" stroke="#4a4a4a" stroke-width="1.0" stroke-linecap="butt"/>
<text x="389.50" y="408.50" font-size="9" text-anchor="end" fill="#000" stroke="#000" stroke-width="0.2">Prior DAC-carbonate</text>
<line x1="393.40" y1="405.20" x2="395.60" y2="405.20" stroke="#4a4a4a" stroke-width="1.0" stroke-linecap="butt"/>
<text x="389.50" y="430.30" font-size="9" text-anchor="end" fill="#000" stroke="#000" stroke-width="0.2">This work</text>
<line x1="393.40" y1="427.00" x2="395.60" y2="427.00" stroke="#4a4a4a" stroke-width="1.0" stroke-linecap="butt"/>
<text x="640.70" y="287.40" font-size="6.5" text-anchor="end" fill="#7c7c7c" stroke="#7c7c7c" stroke-width="0.2">Science (2019)</text>
<text x="514.30" y="298.00" font-size="6.5" text-anchor="start" fill="#7c7c7c" stroke="#7c7c7c" stroke-width="0.2">Nat. Chem. Eng. (2024)</text>
<text x="512.70" y="319.60" font-size="6.5" text-anchor="start" fill="#7c7c7c" stroke="#7c7c7c" stroke-width="0.2">Nat. Synth. (2024)</text>
<text x="496.40" y="341.30" font-size="6.5" text-anchor="start" fill="#7c7c7c" stroke="#7c7c7c" stroke-width="0.2">Nat. Comm. (2022)</text>
<text x="482.30" y="363.00" font-size="6.5" text-anchor="start" fill="#7c7c7c" stroke="#7c7c7c" stroke-width="0.2">Science (2020)</text>
<text x="494.70" y="384.60" font-size="6.5" text-anchor="start" fill="#7c7c7c" stroke="#7c7c7c" stroke-width="0.2">Energy Environ. Sci. (2024)</text>
<text x="490.50" y="406.40" font-size="6.5" text-anchor="start" fill="#7c7c7c" stroke="#7c7c7c" stroke-width="0.2">ACS Energy Lett. (2019)</text>
<polygon points="425.10,272.00 425.95,273.73 427.86,274.00 426.48,275.35 426.80,277.25 425.10,276.35 423.40,277.25 423.72,275.35 422.34,274.00 424.25,273.73" fill="none" stroke="#d84a4a" stroke-width="1.05" stroke-linejoin="round"/>
<polygon points="474.90,293.70 475.75,295.43 477.66,295.70 476.28,297.05 476.60,298.95 474.90,298.05 473.20,298.95 473.52,297.05 472.14,295.70 474.05,295.43" fill="none" stroke="#d84a4a" stroke-width="1.05" stroke-linejoin="round"/>
<polygon points="544.60,315.40 545.45,317.13 547.36,317.40 545.98,318.75 546.30,320.65 544.60,319.75 542.90,320.65 543.22,318.75 541.84,317.40 543.75,317.13" fill="none" stroke="#d84a4a" stroke-width="1.05" stroke-linejoin="round"/>
<polygon points="574.80,337.10 575.65,338.83 577.56,339.10 576.18,340.45 576.50,342.35 574.80,341.45 573.10,342.35 573.42,340.45 572.04,339.10 573.95,338.83" fill="none" stroke="#d84a4a" stroke-width="1.05" stroke-linejoin="round"/>
<polygon points="574.80,358.90 575.65,360.63 577.56,360.90 576.18,362.25 576.50,364.15 574.80,363.25 573.10,364.15 573.42,362.25 572.04,360.90 573.95,360.63" fill="none" stroke="#d84a4a" stroke-width="1.05" stroke-linejoin="round"/>
<polygon points="474.60,380.20 475.45,381.93 477.36,382.20 475.98,383.55 476.30,385.45 474.60,384.55 472.90,385.45 473.22,383.55 471.84,382.20 473.75,381.93" fill="none" stroke="#d84a4a" stroke-width="1.05" stroke-linejoin="round"/>
<polygon points="592.60,402.10 593.45,403.83 595.36,404.10 593.98,405.45 594.30,407.35 592.60,406.45 590.90,407.35 591.22,405.45 589.84,404.10 591.75,403.83" fill="none" stroke="#d84a4a" stroke-width="1.05" stroke-linejoin="round"/>
<polygon points="592.60,424.00 593.45,425.73 595.36,426.00 593.98,427.35 594.30,429.25 592.60,428.35 590.90,429.25 591.22,427.35 589.84,426.00 591.75,425.73" fill="none" stroke="#d84a4a" stroke-width="1.05" stroke-linejoin="round"/>
<path d="M600,384 C607,386 610,392 610,398 C610,404 611,407 616,408.3 C611,409.5 610,413 610,419 C610,425 607,431 600,432.6" fill="none" stroke="#f06060" stroke-width="0.9"/>
<text x="631.00" y="406.90" font-size="7.2" text-anchor="middle" fill="#ee5050" stroke="#ee5050" stroke-width="0.2" stroke-opacity="0">Reactive</text>
<text x="631.00" y="415.80" font-size="7.2" text-anchor="middle" fill="#ee5050" stroke="#ee5050" stroke-width="0.2" stroke-opacity="0">capture</text>
<line x1="395.10" y1="264.20" x2="655.10" y2="264.20" stroke="#4a4a4a" stroke-width="1.0" stroke-linecap="butt"/>
<line x1="654.60" y1="264.20" x2="654.60" y2="437.20" stroke="#4a4a4a" stroke-width="1.0" stroke-linecap="butt"/>
<line x1="395.10" y1="437.20" x2="655.10" y2="437.20" stroke="#4a4a4a" stroke-width="1.0" stroke-linecap="butt"/>
<line x1="395.60" y1="263.70" x2="395.60" y2="437.70" stroke="#4a4a4a" stroke-width="1.0" stroke-linecap="butt"/>
<line x1="395.60" y1="261.70" x2="395.60" y2="264.20" stroke="#4a4a4a" stroke-width="1.0" stroke-linecap="butt"/>
<text x="395.60" y="258.60" font-size="7.6" text-anchor="middle" fill="#000" stroke="#000" stroke-width="0.2">0</text>
<line x1="445.40" y1="262.60" x2="445.40" y2="264.20" stroke="#4a4a4a" stroke-width="1.0" stroke-linecap="butt"/>
<line x1="495.20" y1="261.70" x2="495.20" y2="264.20" stroke="#4a4a4a" stroke-width="1.0" stroke-linecap="butt"/>
<text x="495.20" y="258.60" font-size="7.6" text-anchor="middle" fill="#000" stroke="#000" stroke-width="0.2">50</text>
<line x1="545.00" y1="262.60" x2="545.00" y2="264.20" stroke="#4a4a4a" stroke-width="1.0" stroke-linecap="butt"/>
<line x1="594.80" y1="261.70" x2="594.80" y2="264.20" stroke="#4a4a4a" stroke-width="1.0" stroke-linecap="butt"/>
<text x="594.80" y="258.60" font-size="7.6" text-anchor="middle" fill="#000" stroke="#000" stroke-width="0.2">100</text>
<line x1="644.60" y1="262.60" x2="644.60" y2="264.20" stroke="#4a4a4a" stroke-width="1.0" stroke-linecap="butt"/>
<line x1="395.60" y1="437.20" x2="395.60" y2="435.00" stroke="#4a4a4a" stroke-width="1.0" stroke-linecap="butt"/>
<text x="395.60" y="448.30" font-size="7.6" text-anchor="middle" fill="#000" stroke="#000" stroke-width="0.2">0</text>
<line x1="456.40" y1="437.20" x2="456.40" y2="435.00" stroke="#4a4a4a" stroke-width="1.0" stroke-linecap="butt"/>
<text x="456.40" y="448.30" font-size="7.6" text-anchor="middle" fill="#000" stroke="#000" stroke-width="0.2">40</text>
<line x1="517.20" y1="437.20" x2="517.20" y2="435.00" stroke="#4a4a4a" stroke-width="1.0" stroke-linecap="butt"/>
<text x="517.20" y="448.30" font-size="7.6" text-anchor="middle" fill="#000" stroke="#000" stroke-width="0.2">80</text>
<line x1="578.00" y1="437.20" x2="578.00" y2="435.00" stroke="#4a4a4a" stroke-width="1.0" stroke-linecap="butt"/>
<text x="578.00" y="448.30" font-size="7.6" text-anchor="middle" fill="#000" stroke="#000" stroke-width="0.2">120</text>
<line x1="638.80" y1="437.20" x2="638.80" y2="435.00" stroke="#4a4a4a" stroke-width="1.0" stroke-linecap="butt"/>
<text x="638.80" y="448.30" font-size="7.6" text-anchor="middle" fill="#000" stroke="#000" stroke-width="0.2">160</text>
<text x="524.50" y="461.10" font-size="8.4" text-anchor="middle" fill="#000" stroke="#000" stroke-width="0.2">Energy comsumption (GJ)</text>
<text x="0.20" y="472.60" font-size="20" text-anchor="start" fill="#000" stroke="#000" stroke-width="0">e</text>
<rect x="67.50" y="547.20" width="21.80" height="111.60" fill="#dadada" stroke="#8a8a8a" stroke-width="0.8"/>
<rect x="91.30" y="548.40" width="22.20" height="110.40" fill="#f5c6c6" stroke="#b89090" stroke-width="0.8"/>
<line x1="78.40" y1="544.80" x2="78.40" y2="550.00" stroke="#404040" stroke-width="1.0" stroke-linecap="butt"/>
<line x1="76.60" y1="544.80" x2="80.20" y2="544.80" stroke="#404040" stroke-width="1.0" stroke-linecap="butt"/>
<line x1="76.60" y1="550.00" x2="80.20" y2="550.00" stroke="#404040" stroke-width="1.0" stroke-linecap="butt"/>
<line x1="102.40" y1="545.60" x2="102.40" y2="551.40" stroke="#404040" stroke-width="1.0" stroke-linecap="butt"/>
<line x1="100.60" y1="545.60" x2="104.20" y2="545.60" stroke="#404040" stroke-width="1.0" stroke-linecap="butt"/>
<line x1="100.60" y1="551.40" x2="104.20" y2="551.40" stroke="#404040" stroke-width="1.0" stroke-linecap="butt"/>
<rect x="175.80" y="563.00" width="21.80" height="95.80" fill="#dadada" stroke="#8a8a8a" stroke-width="0.8"/>
<rect x="199.60" y="563.50" width="22.20" height="95.30" fill="#f5c6c6" stroke="#b89090" stroke-width="0.8"/>
<line x1="186.70" y1="560.30" x2="186.70" y2="565.40" stroke="#404040" stroke-width="1.0" stroke-linecap="butt"/>
<line x1="184.90" y1="560.30" x2="188.50" y2="560.30" stroke="#404040" stroke-width="1.0" stroke-linecap="butt"/>
<line x1="184.90" y1="565.40" x2="188.50" y2="565.40" stroke="#404040" stroke-width="1.0" stroke-linecap="butt"/>
<line x1="210.70" y1="561.70" x2="210.70" y2="566.20" stroke="#404040" stroke-width="1.0" stroke-linecap="butt"/>
<line x1="208.90" y1="561.70" x2="212.50" y2="561.70" stroke="#404040" stroke-width="1.0" stroke-linecap="butt"/>
<line x1="208.90" y1="566.20" x2="212.50" y2="566.20" stroke="#404040" stroke-width="1.0" stroke-linecap="butt"/>
<line x1="36.00" y1="484.80" x2="253.30" y2="484.80" stroke="#858585" stroke-width="1.0" stroke-linecap="butt"/>
<line x1="252.80" y1="484.80" x2="252.80" y2="658.80" stroke="#ffa6a6" stroke-width="1.0" stroke-linecap="butt"/>
<line x1="36.00" y1="658.80" x2="253.30" y2="658.80" stroke="#4a4a4a" stroke-width="1.0" stroke-linecap="butt"/>
<line x1="36.50" y1="484.30" x2="36.50" y2="659.30" stroke="#4a4a4a" stroke-width="1.0" stroke-linecap="butt"/>
<line x1="33.80" y1="658.80" x2="36.50" y2="658.80" stroke="#4a4a4a" stroke-width="1.0" stroke-linecap="butt"/>
<text x="31.00" y="661.60" font-size="9.4" text-anchor="end" fill="#000" stroke="#000" stroke-width="0.2">0</text>
<line x1="34.90" y1="629.80" x2="36.50" y2="629.80" stroke="#4a4a4a" stroke-width="1.0" stroke-linecap="butt"/>
<line x1="33.80" y1="600.80" x2="36.50" y2="600.80" stroke="#4a4a4a" stroke-width="1.0" stroke-linecap="butt"/>
<text x="31.00" y="603.60" font-size="9.4" text-anchor="end" fill="#000" stroke="#000" stroke-width="0.2">20</text>
<line x1="34.90" y1="571.80" x2="36.50" y2="571.80" stroke="#4a4a4a" stroke-width="1.0" stroke-linecap="butt"/>
<line x1="33.80" y1="542.80" x2="36.50" y2="542.80" stroke="#4a4a4a" stroke-width="1.0" stroke-linecap="butt"/>
<text x="31.00" y="545.60" font-size="9.4" text-anchor="end" fill="#000" stroke="#000" stroke-width="0.2">40</text>
<line x1="34.90" y1="513.80" x2="36.50" y2="513.80" stroke="#4a4a4a" stroke-width="1.0" stroke-linecap="butt"/>
<line x1="33.80" y1="484.80" x2="36.50" y2="484.80" stroke="#4a4a4a" stroke-width="1.0" stroke-linecap="butt"/>
<text x="31.00" y="487.60" font-size="9.4" text-anchor="end" fill="#000" stroke="#000" stroke-width="0.2">60</text>
<line x1="252.80" y1="658.80" x2="255.50" y2="658.80" stroke="#4a4a4a" stroke-width="1.0" stroke-linecap="butt"/>
<text x="258.60" y="661.60" font-size="9.4" text-anchor="start" fill="#ff7272" stroke="#ff7272" stroke-width="0.08">0</text>
<line x1="252.80" y1="637.05" x2="254.40" y2="637.05" stroke="#4a4a4a" stroke-width="1.0" stroke-linecap="butt"/>
<line x1="252.80" y1="615.30" x2="255.50" y2="615.30" stroke="#4a4a4a" stroke-width="1.0" stroke-linecap="butt"/>
<text x="258.60" y="618.10" font-size="9.4" text-anchor="start" fill="#ff7272" stroke="#ff7272" stroke-width="0.08">10</text>
<line x1="252.80" y1="593.55" x2="254.40" y2="593.55" stroke="#4a4a4a" stroke-width="1.0" stroke-linecap="butt"/>
<line x1="252.80" y1="571.80" x2="255.50" y2="571.80" stroke="#4a4a4a" stroke-width="1.0" stroke-linecap="butt"/>
<text x="258.60" y="574.60" font-size="9.4" text-anchor="start" fill="#ff7272" stroke="#ff7272" stroke-width="0.08">20</text>
<line x1="252.80" y1="550.05" x2="254.40" y2="550.05" stroke="#4a4a4a" stroke-width="1.0" stroke-linecap="butt"/>
<line x1="252.80" y1="528.30" x2="255.50" y2="528.30" stroke="#4a4a4a" stroke-width="1.0" stroke-linecap="butt"/>
<text x="258.60" y="531.10" font-size="9.4" text-anchor="start" fill="#ff7272" stroke="#ff7272" stroke-width="0.08">30</text>
<line x1="252.80" y1="506.55" x2="254.40" y2="506.55" stroke="#4a4a4a" stroke-width="1.0" stroke-linecap="butt"/>
<line x1="252.80" y1="484.80" x2="255.50" y2="484.80" stroke="#4a4a4a" stroke-width="1.0" stroke-linecap="butt"/>
<text x="258.60" y="487.60" font-size="9.4" text-anchor="start" fill="#ff7272" stroke="#ff7272" stroke-width="0.08">40</text>
<line x1="90.58" y1="658.80" x2="90.58" y2="661.50" stroke="#4a4a4a" stroke-width="1.0" stroke-linecap="butt"/>
<text x="90.58" y="670.40" font-size="9.4" text-anchor="middle" fill="#000" stroke="#000" stroke-width="0.2">1.25</text>
<line x1="198.72" y1="658.80" x2="198.72" y2="661.50" stroke="#4a4a4a" stroke-width="1.0" stroke-linecap="butt"/>
<text x="198.72" y="670.40" font-size="9.4" text-anchor="middle" fill="#000" stroke="#000" stroke-width="0.2">2.5</text>
<line x1="144.65" y1="658.80" x2="144.65" y2="660.40" stroke="#4a4a4a" stroke-width="1.0" stroke-linecap="butt"/>
<text x="145.00" y="684.00" font-size="10.8" text-anchor="middle" fill="#000" stroke="#000" stroke-width="0.2">Current (A)</text>
<text x="17.80" y="571.20" font-size="10.8" text-anchor="middle" fill="#000" stroke="#000" stroke-width="0.2" transform="rotate(-90 17.80 571.20)">Faradaic efficiency to CO (%)</text>
<text x="273.00" y="571.20" font-size="10.8" text-anchor="middle" fill="#ff7272" stroke="#ff7272" stroke-width="0.08" transform="rotate(90 273.00 571.20)">CO concentration (%)</text>
<rect x="39.70" y="486.60" width="19.90" height="10.00" fill="#dadada" stroke="#8a8a8a" stroke-width="0.8"/>
<text x="62.00" y="495.30" font-size="9" text-anchor="start" fill="#000" stroke="#000" stroke-width="0.2">FE<tspan dy="2.5" font-size="6.5">CO</tspan></text>
<rect x="39.70" y="499.50" width="19.90" height="10.00" fill="#f5c6c6" stroke="#b89090" stroke-width="0.8"/>
<text x="62.00" y="508.30" font-size="9" text-anchor="start" fill="#000" stroke="#000" stroke-width="0.2">CO concentration (%)</text>
<text x="249.70" y="494.70" font-size="9" text-anchor="end" fill="#000" stroke="#000" stroke-width="0.2">scale up</text>
<text x="246.90" y="507.00" font-size="9" text-anchor="end" fill="#000" stroke="#000" stroke-width="0.2">25 cm<tspan dy="-4" font-size="6.5">2</tspan></text>
<polyline points="72.00,547.00 72.00,540.50 42.00,540.50" stroke="#222" stroke-width="0.9" fill="none" stroke-linejoin="round"/>
<polygon points="39.70,540.50 45.20,538.80 45.20,542.20" fill="#222"/>
<polyline points="217.40,557.30 217.40,550.60 245.00,550.60" stroke="#222" stroke-width="0.9" fill="none" stroke-linejoin="round"/>
<polygon points="248.70,550.60 243.20,548.90 243.20,552.30" fill="#222"/>
<text x="299.00" y="476.00" font-size="20" text-anchor="start" fill="#000" stroke="#000" stroke-width="0">f</text>
<polyline points="357.90,543.80 396.30,546.30 421.40,544.60 435.80,545.60 455.60,549.80 471.80,547.50 483.90,549.30 514.00,547.00 527.00,542.90 540.00,547.50 578.30,552.90 593.70,552.90 620.20,554.30 626.90,559.70" stroke="#808080" stroke-width="1.05" fill="none" stroke-dasharray="4.6,4.2" stroke-linejoin="round"/>
<polyline points="365.30,597.90 385.90,599.70 415.40,601.10 441.20,599.90 498.80,600.60 510.00,601.50 540.50,600.70 568.30,601.50 590.00,601.50 623.40,602.00" stroke="#808080" stroke-width="1.05" fill="none" stroke-dasharray="4.6,4.2" stroke-linejoin="round"/>
<polyline points="357.90,654.20 396.30,632.90 421.40,618.50 435.80,610.60 455.60,599.40 471.80,591.00 483.90,584.00 514.00,567.20 527.00,559.90 540.00,552.90 578.30,531.60 593.70,530.50 620.20,517.00 627.00,513.40" stroke="#6a6a6a" stroke-width="0.9" fill="none" stroke-linejoin="round"/>
<polyline points="365.30,655.20 385.90,648.80 415.40,640.30 441.20,632.40 498.80,615.50 510.30,612.30 540.50,603.40 568.30,595.30 590.00,589.10 623.40,579.40 628.30,578.00" stroke="#6a6a6a" stroke-width="0.9" fill="none" stroke-linejoin="round"/>
<line x1="370.30" y1="546.80" x2="352.00" y2="546.80" stroke="#111" stroke-width="1.0" stroke-linecap="butt"/>
<polygon points="348.20,546.80 353.70,545.00 353.70,548.60" fill="#111"/>
<line x1="381.00" y1="601.10" x2="352.00" y2="601.10" stroke="#111" stroke-width="1.0" stroke-linecap="butt"/>
<polygon points="348.20,601.10 353.70,599.30 353.70,602.90" fill="#111"/>
<line x1="628.00" y1="512.60" x2="649.00" y2="512.60" stroke="#111" stroke-width="1.0" stroke-linecap="butt"/>
<polygon points="653.10,512.60 647.60,510.80 647.60,514.40" fill="#111"/>
<line x1="628.00" y1="577.90" x2="649.00" y2="577.90" stroke="#111" stroke-width="1.0" stroke-linecap="butt"/>
<polygon points="653.10,577.90 647.60,576.10 647.60,579.70" fill="#111"/>
<rect x="356.15" y="542.05" width="3.50" height="3.50" fill="#fff" stroke="#ff7272" stroke-width="1.8"/>
<rect x="394.55" y="544.55" width="3.50" height="3.50" fill="#fff" stroke="#ff7272" stroke-width="1.8"/>
<rect x="419.65" y="542.85" width="3.50" height="3.50" fill="#fff" stroke="#ff7272" stroke-width="1.8"/>
<rect x="434.05" y="543.85" width="3.50" height="3.50" fill="#fff" stroke="#ff7272" stroke-width="1.8"/>
<rect x="453.85" y="548.05" width="3.50" height="3.50" fill="#fff" stroke="#ff7272" stroke-width="1.8"/>
<rect x="470.05" y="545.75" width="3.50" height="3.50" fill="#fff" stroke="#ff7272" stroke-width="1.8"/>
<rect x="482.15" y="547.55" width="3.50" height="3.50" fill="#fff" stroke="#ff7272" stroke-width="1.8"/>
<rect x="512.25" y="545.25" width="3.50" height="3.50" fill="#fff" stroke="#ff7272" stroke-width="1.8"/>
<rect x="525.25" y="541.15" width="3.50" height="3.50" fill="#fff" stroke="#ff7272" stroke-width="1.8"/>
<rect x="538.25" y="545.75" width="3.50" height="3.50" fill="#fff" stroke="#ff7272" stroke-width="1.8"/>
<rect x="576.55" y="551.15" width="3.50" height="3.50" fill="#fff" stroke="#ff7272" stroke-width="1.8"/>
<rect x="591.95" y="551.15" width="3.50" height="3.50" fill="#fff" stroke="#ff7272" stroke-width="1.8"/>
<rect x="618.45" y="552.55" width="3.50" height="3.50" fill="#fff" stroke="#ff7272" stroke-width="1.8"/>
<rect x="625.15" y="557.95" width="3.50" height="3.50" fill="#fff" stroke="#ff7272" stroke-width="1.8"/>
<rect x="363.55" y="596.15" width="3.50" height="3.50" fill="#fff" stroke="#4a8fc8" stroke-width="1.8"/>
<rect x="384.15" y="597.95" width="3.50" height="3.50" fill="#fff" stroke="#4a8fc8" stroke-width="1.8"/>
<rect x="413.65" y="599.35" width="3.50" height="3.50" fill="#fff" stroke="#4a8fc8" stroke-width="1.8"/>
<rect x="439.45" y="598.15" width="3.50" height="3.50" fill="#fff" stroke="#4a8fc8" stroke-width="1.8"/>
<rect x="497.05" y="598.85" width="3.50" height="3.50" fill="#fff" stroke="#4a8fc8" stroke-width="1.8"/>
<rect x="508.25" y="599.75" width="3.50" height="3.50" fill="#fff" stroke="#4a8fc8" stroke-width="1.8"/>
<rect x="538.75" y="598.95" width="3.50" height="3.50" fill="#fff" stroke="#4a8fc8" stroke-width="1.8"/>
<rect x="566.55" y="599.75" width="3.50" height="3.50" fill="#fff" stroke="#4a8fc8" stroke-width="1.8"/>
<rect x="588.25" y="599.75" width="3.50" height="3.50" fill="#fff" stroke="#4a8fc8" stroke-width="1.8"/>
<rect x="621.65" y="600.25" width="3.50" height="3.50" fill="#fff" stroke="#4a8fc8" stroke-width="1.8"/>
<circle cx="357.90" cy="654.20" r="3.1" fill="#ff7272"/>
<circle cx="396.30" cy="632.90" r="3.1" fill="#ff7272"/>
<circle cx="421.40" cy="618.50" r="3.1" fill="#ff7272"/>
<circle cx="435.80" cy="610.60" r="3.1" fill="#ff7272"/>
<circle cx="455.60" cy="599.40" r="3.1" fill="#ff7272"/>
<circle cx="471.80" cy="591.00" r="3.1" fill="#ff7272"/>
<circle cx="483.90" cy="584.00" r="3.1" fill="#ff7272"/>
<circle cx="514.00" cy="567.20" r="3.1" fill="#ff7272"/>
<circle cx="527.00" cy="559.90" r="3.1" fill="#ff7272"/>
<circle cx="540.00" cy="552.90" r="3.1" fill="#ff7272"/>
<circle cx="578.30" cy="531.60" r="3.1" fill="#ff7272"/>
<circle cx="593.70" cy="530.50" r="3.1" fill="#ff7272"/>
<circle cx="620.20" cy="517.00" r="3.1" fill="#ff7272"/>
<circle cx="627.00" cy="513.40" r="3.1" fill="#ff7272"/>
<circle cx="365.30" cy="655.20" r="3.1" fill="#4a8fc8"/>
<circle cx="385.90" cy="648.80" r="3.1" fill="#4a8fc8"/>
<circle cx="415.40" cy="640.30" r="3.1" fill="#4a8fc8"/>
<circle cx="441.20" cy="632.40" r="3.1" fill="#4a8fc8"/>
<circle cx="498.80" cy="615.50" r="3.1" fill="#4a8fc8"/>
<circle cx="510.30" cy="612.30" r="3.1" fill="#4a8fc8"/>
<circle cx="540.50" cy="603.40" r="3.1" fill="#4a8fc8"/>
<circle cx="568.30" cy="595.30" r="3.1" fill="#4a8fc8"/>
<circle cx="590.00" cy="589.10" r="3.1" fill="#4a8fc8"/>
<circle cx="623.40" cy="579.40" r="3.1" fill="#4a8fc8"/>
<circle cx="628.30" cy="578.00" r="3.1" fill="#4a8fc8"/>
<line x1="345.50" y1="486.20" x2="657.00" y2="486.20" stroke="#858585" stroke-width="1.0" stroke-linecap="butt"/>
<line x1="656.50" y1="486.20" x2="656.50" y2="661.00" stroke="#ffa6a6" stroke-width="1.0" stroke-linecap="butt"/>
<line x1="345.50" y1="661.00" x2="657.00" y2="661.00" stroke="#4a4a4a" stroke-width="1.0" stroke-linecap="butt"/>
<line x1="346.00" y1="485.70" x2="346.00" y2="661.50" stroke="#4a4a4a" stroke-width="1.0" stroke-linecap="butt"/>
<line x1="343.30" y1="661.00" x2="346.00" y2="661.00" stroke="#4a4a4a" stroke-width="1.0" stroke-linecap="butt"/>
<text x="342.40" y="663.80" font-size="9.4" text-anchor="end" fill="#000" stroke="#000" stroke-width="0.2">0</text>
<line x1="344.40" y1="643.54" x2="346.00" y2="643.54" stroke="#4a4a4a" stroke-width="1.0" stroke-linecap="butt"/>
<line x1="343.30" y1="626.04" x2="346.00" y2="626.04" stroke="#4a4a4a" stroke-width="1.0" stroke-linecap="butt"/>
<text x="342.40" y="628.84" font-size="9.4" text-anchor="end" fill="#000" stroke="#000" stroke-width="0.2">5</text>
<line x1="344.40" y1="608.58" x2="346.00" y2="608.58" stroke="#4a4a4a" stroke-width="1.0" stroke-linecap="butt"/>
<line x1="343.30" y1="591.08" x2="346.00" y2="591.08" stroke="#4a4a4a" stroke-width="1.0" stroke-linecap="butt"/>
<text x="342.40" y="593.88" font-size="9.4" text-anchor="end" fill="#000" stroke="#000" stroke-width="0.2">10</text>
<line x1="344.40" y1="573.62" x2="346.00" y2="573.62" stroke="#4a4a4a" stroke-width="1.0" stroke-linecap="butt"/>
<line x1="343.30" y1="556.12" x2="346.00" y2="556.12" stroke="#4a4a4a" stroke-width="1.0" stroke-linecap="butt"/>
<text x="342.40" y="558.92" font-size="9.4" text-anchor="end" fill="#000" stroke="#000" stroke-width="0.2">15</text>
<line x1="344.40" y1="538.66" x2="346.00" y2="538.66" stroke="#4a4a4a" stroke-width="1.0" stroke-linecap="butt"/>
<line x1="343.30" y1="521.16" x2="346.00" y2="521.16" stroke="#4a4a4a" stroke-width="1.0" stroke-linecap="butt"/>
<text x="342.40" y="523.96" font-size="9.4" text-anchor="end" fill="#000" stroke="#000" stroke-width="0.2">20</text>
<line x1="344.40" y1="503.70" x2="346.00" y2="503.70" stroke="#4a4a4a" stroke-width="1.0" stroke-linecap="butt"/>
<line x1="343.30" y1="486.20" x2="346.00" y2="486.20" stroke="#4a4a4a" stroke-width="1.0" stroke-linecap="butt"/>
<text x="342.40" y="489.00" font-size="9.4" text-anchor="end" fill="#000" stroke="#000" stroke-width="0.2">25</text>
<line x1="346.00" y1="661.00" x2="346.00" y2="663.70" stroke="#4a4a4a" stroke-width="1.0" stroke-linecap="butt"/>
<text x="346.00" y="675.20" font-size="9.4" text-anchor="middle" fill="#000" stroke="#000" stroke-width="0.2">0</text>
<line x1="374.23" y1="661.00" x2="374.23" y2="662.60" stroke="#4a4a4a" stroke-width="1.0" stroke-linecap="butt"/>
<line x1="402.45" y1="661.00" x2="402.45" y2="663.70" stroke="#4a4a4a" stroke-width="1.0" stroke-linecap="butt"/>
<text x="402.45" y="675.20" font-size="9.4" text-anchor="middle" fill="#000" stroke="#000" stroke-width="0.2">1</text>
<line x1="430.68" y1="661.00" x2="430.68" y2="662.60" stroke="#4a4a4a" stroke-width="1.0" stroke-linecap="butt"/>
<line x1="458.90" y1="661.00" x2="458.90" y2="663.70" stroke="#4a4a4a" stroke-width="1.0" stroke-linecap="butt"/>
<text x="458.90" y="675.20" font-size="9.4" text-anchor="middle" fill="#000" stroke="#000" stroke-width="0.2">2</text>
<line x1="487.12" y1="661.00" x2="487.12" y2="662.60" stroke="#4a4a4a" stroke-width="1.0" stroke-linecap="butt"/>
<line x1="515.35" y1="661.00" x2="515.35" y2="663.70" stroke="#4a4a4a" stroke-width="1.0" stroke-linecap="butt"/>
<text x="515.35" y="675.20" font-size="9.4" text-anchor="middle" fill="#000" stroke="#000" stroke-width="0.2">3</text>
<line x1="543.58" y1="661.00" x2="543.58" y2="662.60" stroke="#4a4a4a" stroke-width="1.0" stroke-linecap="butt"/>
<line x1="571.80" y1="661.00" x2="571.80" y2="663.70" stroke="#4a4a4a" stroke-width="1.0" stroke-linecap="butt"/>
<text x="571.80" y="675.20" font-size="9.4" text-anchor="middle" fill="#000" stroke="#000" stroke-width="0.2">4</text>
<line x1="600.02" y1="661.00" x2="600.02" y2="662.60" stroke="#4a4a4a" stroke-width="1.0" stroke-linecap="butt"/>
<line x1="628.25" y1="661.00" x2="628.25" y2="663.70" stroke="#4a4a4a" stroke-width="1.0" stroke-linecap="butt"/>
<text x="628.25" y="675.20" font-size="9.4" text-anchor="middle" fill="#000" stroke="#000" stroke-width="0.2">5</text>
<line x1="656.48" y1="661.00" x2="656.48" y2="662.60" stroke="#4a4a4a" stroke-width="1.0" stroke-linecap="butt"/>
<line x1="656.50" y1="661.00" x2="659.20" y2="661.00" stroke="#ffa6a6" stroke-width="1.0" stroke-linecap="butt"/>
<text x="660.50" y="663.80" font-size="9.4" text-anchor="start" fill="#ff7272" stroke="#ff7272" stroke-width="0.08">0</text>
<line x1="656.50" y1="639.15" x2="658.10" y2="639.15" stroke="#ffa6a6" stroke-width="1.0" stroke-linecap="butt"/>
<line x1="656.50" y1="617.30" x2="659.20" y2="617.30" stroke="#ffa6a6" stroke-width="1.0" stroke-linecap="butt"/>
<text x="660.50" y="620.10" font-size="9.4" text-anchor="start" fill="#ff7272" stroke="#ff7272" stroke-width="0.08">1</text>
<line x1="656.50" y1="595.45" x2="658.10" y2="595.45" stroke="#ffa6a6" stroke-width="1.0" stroke-linecap="butt"/>
<line x1="656.50" y1="573.60" x2="659.20" y2="573.60" stroke="#ffa6a6" stroke-width="1.0" stroke-linecap="butt"/>
<text x="660.50" y="576.40" font-size="9.4" text-anchor="start" fill="#ff7272" stroke="#ff7272" stroke-width="0.08">2</text>
<line x1="656.50" y1="551.75" x2="658.10" y2="551.75" stroke="#ffa6a6" stroke-width="1.0" stroke-linecap="butt"/>
<line x1="656.50" y1="529.90" x2="659.20" y2="529.90" stroke="#ffa6a6" stroke-width="1.0" stroke-linecap="butt"/>
<text x="660.50" y="532.70" font-size="9.4" text-anchor="start" fill="#ff7272" stroke="#ff7272" stroke-width="0.08">3</text>
<line x1="656.50" y1="508.05" x2="658.10" y2="508.05" stroke="#ffa6a6" stroke-width="1.0" stroke-linecap="butt"/>
<line x1="656.50" y1="486.20" x2="659.20" y2="486.20" stroke="#ffa6a6" stroke-width="1.0" stroke-linecap="butt"/>
<text x="660.50" y="489.00" font-size="9.4" text-anchor="start" fill="#ff7272" stroke="#ff7272" stroke-width="0.08">4</text>
<text x="502.00" y="688.20" font-size="11.6" text-anchor="middle" fill="#000" stroke="#000" stroke-width="0.2">Time (h)</text>
<text x="323.00" y="564.20" font-size="10.3" text-anchor="middle" fill="#000" stroke="#000" stroke-width="0.2" transform="rotate(-90 323.00 564.20)">CO production rate (mmole h<tspan dy="-4" font-size="7">-1</tspan><tspan dy="4">)</tspan></text>
<text x="676.00" y="572.80" font-size="11.4" text-anchor="middle" fill="#ff7272" stroke="#ff7272" stroke-width="0.08" transform="rotate(90 676.00 572.80)">CO<tspan dy="2.8" font-size="8">2</tspan><tspan dy="-2.8"> removal (g)</tspan></text>
<text x="348.80" y="495.80" font-size="9.6" text-anchor="start" fill="#000" stroke="#000" stroke-width="0.2">left Y</text>
<text x="382.60" y="495.80" font-size="9.6" text-anchor="start" fill="#000" stroke="#000" stroke-width="0.2">right Y</text>
<line x1="349.10" y1="501.80" x2="353.10" y2="501.80" stroke="#8a8a8a" stroke-width="1.0" stroke-linecap="butt"/>
<line x1="366.30" y1="501.80" x2="371.00" y2="501.80" stroke="#8a8a8a" stroke-width="1.0" stroke-linecap="butt"/>
<rect x="358.35" y="500.05" width="3.50" height="3.50" fill="#fff" stroke="#4a8fc8" stroke-width="1.8"/>
<line x1="386.30" y1="502.00" x2="408.60" y2="502.00" stroke="#6a6a6a" stroke-width="0.9" stroke-linecap="butt"/>
<circle cx="397.30" cy="502.00" r="3.1" fill="#4a8fc8"/>
<text x="411.60" y="505.50" font-size="9.5" text-anchor="start" fill="#000" stroke="#000" stroke-width="0.2">1.25 A</text>
<line x1="349.10" y1="514.20" x2="353.10" y2="514.20" stroke="#8a8a8a" stroke-width="1.0" stroke-linecap="butt"/>
<line x1="364.00" y1="514.20" x2="368.00" y2="514.20" stroke="#8a8a8a" stroke-width="1.0" stroke-linecap="butt"/>
<rect x="358.35" y="512.45" width="3.50" height="3.50" fill="#fff" stroke="#ff7272" stroke-width="1.8"/>
<line x1="386.30" y1="514.00" x2="408.60" y2="514.00" stroke="#6a6a6a" stroke-width="0.9" stroke-linecap="butt"/>
<circle cx="397.30" cy="514.00" r="3.1" fill="#ff7272"/>
<text x="411.60" y="517.50" font-size="9.5" text-anchor="start" fill="#000" stroke="#000" stroke-width="0.2">2.5 A</text>
<text x="653.10" y="494.90" font-size="9" text-anchor="end" fill="#000" stroke="#000" stroke-width="0.2">scale up</text>
<text x="649.90" y="507.50" font-size="9" text-anchor="end" fill="#000" stroke="#000" stroke-width="0.2">25 cm<tspan dy="-4" font-size="6.5">2</tspan></text>
</svg></body></html>
